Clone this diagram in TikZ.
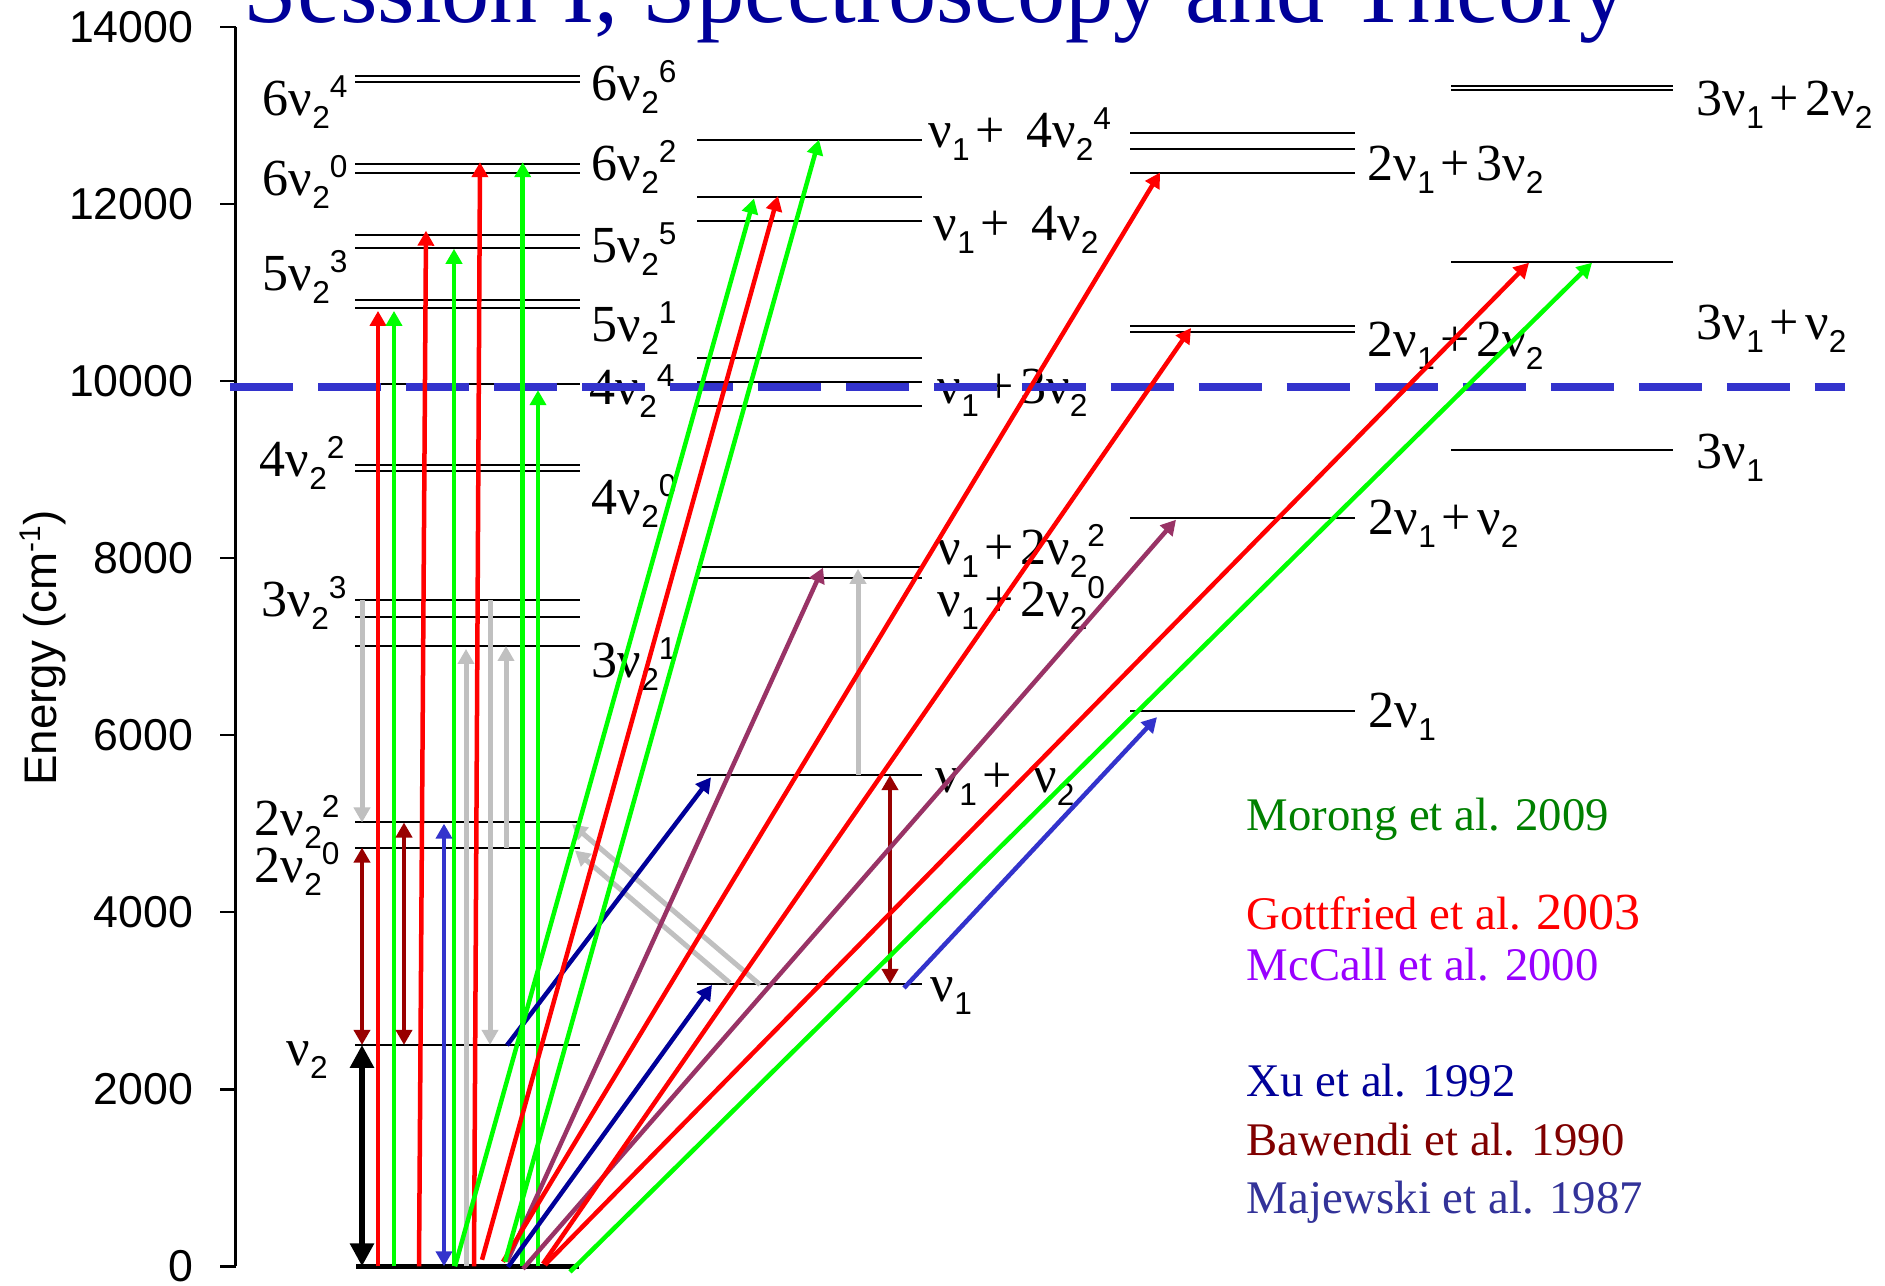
\documentclass[tikz,border=0pt]{standalone}
\usepackage{fontspec}
\setmainfont{Liberation Serif}
\newfontfamily\axfont{Liberation Sans}
\usetikzlibrary{arrows.meta}
\definecolor{ttlblue}{RGB}{0,0,153}
\definecolor{hotred}{RGB}{255,0,0}
\definecolor{hotgreen}{RGB}{0,255,0}
\definecolor{lgtgray}{RGB}{192,192,192}
\definecolor{xublue}{RGB}{0,0,153}
\definecolor{majblue}{RGB}{51,51,204}
\definecolor{majtext}{RGB}{51,51,153}
\definecolor{mcpurple}{RGB}{153,51,102}
\definecolor{mctext}{RGB}{153,0,255}
\definecolor{bawred}{RGB}{153,0,0}
\definecolor{bawtext}{RGB}{128,0,0}
\definecolor{morgreen}{RGB}{0,128,0}
\newcommand{\levfont}{\fontsize{14.8}{16}\selectfont}
\newcommand{\scrfont}{\axfont\fontsize{9}{10}\selectfont}
\newcommand{\levsub}[1]{\raisebox{-0.13cm}{\scrfont #1}}
\newcommand{\levsup}[1]{\raisebox{0.18cm}{\scrfont #1}}
\newcommand{\lplus}{\hspace{0.06cm}+\hspace{0.06cm}}

\begin{document}
\begin{tikzpicture}[
  x=0.01cm, y=0.0008827cm,
  lev/.style={line width=0.2mm},
  axis/.style={line width=0.25mm},
  tick/.style={anchor=east, inner sep=0pt, font=\axfont\fontsize{12.7}{14}\selectfont},
  lbl/.style={anchor=base west, inner sep=0pt, font=\levfont},
  lgd/.style={anchor=base west, inner sep=0pt, text=#1, font=\fontsize{13.3}{15}\selectfont},
  tr/.style={line width=0.45mm, -{Triangle[length=1.5mm,width=1.6mm]}, #1},
  dtr/.style={line width=0.45mm, {Triangle[length=1.5mm,width=1.6mm]}-{Triangle[length=1.5mm,width=1.6mm]}, #1}
]
\useasboundingbox (0,-221) rectangle (1885,14303);
\clip (0,-221) rectangle (1885,14303);
\fill[white] (0,-221) rectangle (1885,14303);

%% Title
\node[anchor=base west, inner sep=0pt, text=ttlblue, font=\fontsize{27.4}{30}\selectfont]
  (title) at (243,14053) {Session I, Spectroscopy and Theory};

%% Axis
\draw[axis] (235.7,0) -- (235.7,14000);
\foreach \e in {0,2000,...,14000} {
  \draw[axis] (220,\e) -- (235.7,\e);
  \node[tick] (t\e) at (194,\e) {\e};
}
\node[rotate=90, anchor=base, inner sep=0pt, font=\axfont\fontsize{13}{15}\selectfont]
  (elab) at (57,6984) {Energy (cm\raisebox{0.16cm}{\fontsize{8.5}{10}\selectfont -1})};

%% Levels
\foreach \e in {13442,13374,12453,12346,11652,11504,10912,10828,9960,9054,8978,7525,7335,7007,5013,4730,2501}
  \draw[lev] (355,\e) -- (580,\e);
\draw[line width=0.5mm] (356,0) -- (579,0);
\foreach \e in {12725,12074,11810,10262,9986,9714,7902,7769,5549,3189}
  \draw[lev] (697,\e) -- (922,\e);
\foreach \e in {12799,12618,12351,10621,10553,8449,6271}
  \draw[lev] (1130,\e) -- (1355,\e);
\foreach \e in {13328,13291,11349,9224}
  \draw[lev] (1451,\e) -- (1673,\e);

%% Level labels, bending column
\node[lbl] (b64) at (262,12999) {6ν\levsub{2}\levsup{4}};
\node[lbl] (b60) at (262,12093) {6ν\levsub{2}\levsup{0}};
\node[lbl] (b53) at (262,11017) {5ν\levsub{2}\levsup{3}};
\node[lbl] (b42) at (259,8921) {4ν\levsub{2}\levsup{2}};
\node[lbl] (b33) at (261,7335) {3ν\levsub{2}\levsup{3}};
\node[lbl] (b22) at (254,4866) {2ν\levsub{2}\levsup{2}};
\node[lbl] (b20) at (254,4333) {2ν\levsub{2}\levsup{0}};
\node[lbl] (b1)  at (286,2271) {ν\levsub{2}};
\node[lbl] (b66) at (591,13170) {6ν\levsub{2}\levsup{6}};
\node[lbl] (b62) at (591,12263) {6ν\levsub{2}\levsup{2}};
\node[lbl] (b55) at (591,11334) {5ν\levsub{2}\levsup{5}};
\node[lbl] (b51) at (591,10451) {5ν\levsub{2}\levsup{1}};
\node[lbl] (b44) at (589,9737) {4ν\levsub{2}\levsup{4}};
\node[lbl] (b40) at (591,8491) {4ν\levsub{2}\levsup{0}};
\node[lbl] (b31) at (591,6656) {3ν\levsub{2}\levsup{1}};

%% Level labels, nu1 columns
\node[lbl] (s44) at (928,12637) {ν\levsub{1}\lplus\hspace{0.15cm}4ν\levsub{2}\levsup{4}};
\node[lbl] (s4)  at (933,11584) {ν\levsub{1}\lplus\hspace{0.15cm}4ν\levsub{2}};
\node[lbl] (s3)  at (937,9748) {ν\levsub{1}\lplus 3ν\levsub{2}};
\node[lbl] (s22) at (937,7925) {ν\levsub{1}\lplus 2ν\levsub{2}\levsup{2}};
\node[lbl] (s20) at (937,7335) {ν\levsub{1}\lplus 2ν\levsub{2}\levsup{0}};
\node[lbl] (s1)  at (935,5353) {ν\levsub{1}\lplus\hspace{0.15cm}ν\levsub{2}};
\node[lbl] (s0)  at (930,2996) {ν\levsub{1}};
\node[lbl] (d3)  at (1367,12263) {2ν\levsub{1}\lplus 3ν\levsub{2}};
\node[lbl] (d2)  at (1367,10281) {2ν\levsub{1}\lplus 2ν\levsub{2}};
\node[lbl] (d1)  at (1368,8265) {2ν\levsub{1}\lplus ν\levsub{2}};
\node[lbl] (d0)  at (1368,6090) {2ν\levsub{1}};
\node[lbl] (q2)  at (1696,12999) {3ν\levsub{1}\lplus 2ν\levsub{2}};
\node[lbl] (q1)  at (1696,10473) {3ν\levsub{1}\lplus ν\levsub{2}};
\node[lbl] (q0)  at (1696,9012) {3ν\levsub{1}};

%% Dissociation-like dashed line
\draw[majblue, line width=0.75mm, dash pattern=on 6.3mm off 2.5mm] (230,9933) -- (1845,9933);

%% Gray transitions
\draw[tr=lgtgray, line width=0.5mm] (466,0) -- (466,6973);
\draw[tr=lgtgray, line width=0.5mm] (490,7525) -- (490,2501);
\draw[tr=lgtgray, line width=0.5mm] (506,4730) -- (506,7007);
\draw[tr=lgtgray, line width=0.5mm] (362,7525) -- (362,5013);
\draw[tr=lgtgray, line width=0.5mm] (858,5549) -- (858,7878);
\draw[tr=lgtgray, line width=0.5mm] (760,3181) -- (572,4994);
\draw[tr=lgtgray, line width=0.5mm] (730,3200) -- (575,4696);

%% Vertical overtones
\draw[tr=hotred] (378,0) -- (378,10791);
\draw[tr=hotgreen] (394,0) -- (394,10791);
\draw[tr=hotred] (419,0) -- (426,11697);
\draw[tr=hotgreen] (454,0) -- (454,11493);
\draw[tr=hotred] (474,0) -- (480,12471);
\draw[tr=hotgreen] (522.7,0) -- (522.7,12471);
\draw[tr=hotgreen] (538,0) -- (538,9896);

%% Bawendi, Majewski, fundamental
\draw[dtr=bawred] (362,4730) -- (362,2501);
\draw[dtr=bawred] (404,5013) -- (404,2501);
\draw[dtr=bawred] (890,5549) -- (890,3189);
\draw[dtr=majblue] (444,0) -- (444,5000);
\draw[tr=majblue] (904,3144) -- (1157,6203);
\draw[line width=0.57mm, {Triangle[length=2.3mm,width=2.3mm]}-{Triangle[length=2.3mm,width=2.3mm]}]
  (362,0) -- (362,2501);

%% Xu and McCall
\draw[tr=xublue] (507,2498) -- (711,5523);
\draw[tr=xublue] (508,-6) -- (712,3178);
\draw[tr=mcpurple] (507,51) -- (823,7891);
\draw[tr=mcpurple] (523,-28) -- (1176,8433);

%% Slanted overtones
\draw[tr=hotred] (482,74) -- (778,12090);
\draw[tr=hotred] (503,51) -- (1160,12354);
\draw[tr=hotred] (543,28) -- (1191,10598);
\draw[tr=hotred] (545,17) -- (1529,11335);
\draw[tr=hotgreen] (455,0) -- (754,12060);
\draw[tr=hotgreen] (505,51) -- (819,12725);
\draw[tr=hotgreen] (570,-62) -- (1592,11335);

%% Legend
\node[lgd=morgreen] (morong) at (1246,4919) {Morong et al. 2009};
\node[lgd=hotred] (gott) at (1246,3801) {Gottfried et al. {\fontsize{14.8}{16}\selectfont 2003}};
\node[lgd=mctext] (mccall) at (1246,3224) {McCall et al. 2000};
\node[lgd=xublue] (xu) at (1246,1921) {Xu et al. 1992};
\node[lgd=bawtext] (bawendi) at (1246,1251) {Bawendi et al. 1990};
\node[lgd=majtext] (majewski) at (1246,594) {Majewski et al. 1987};
\end{tikzpicture}
\end{document}
